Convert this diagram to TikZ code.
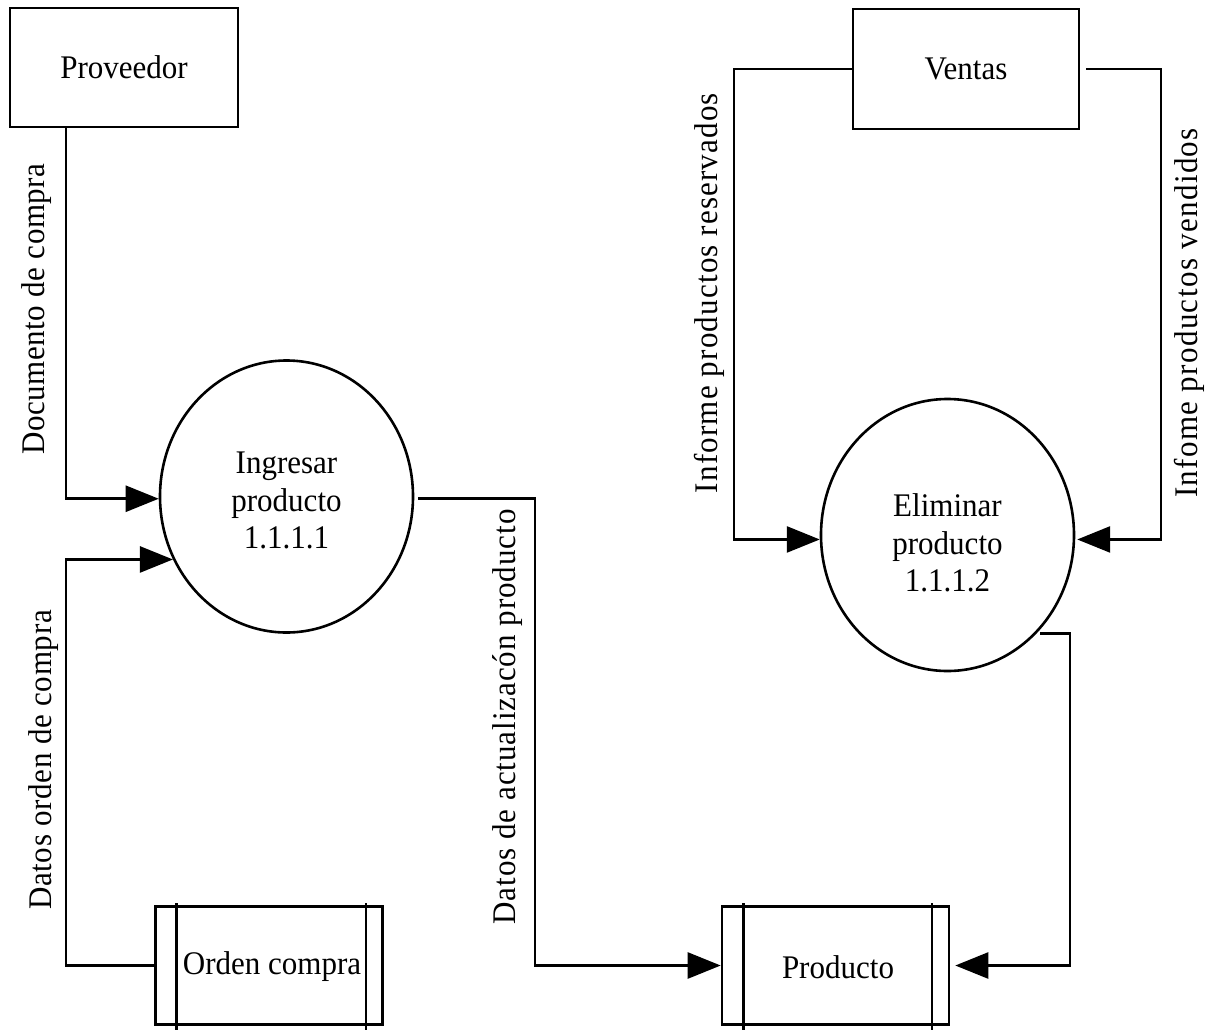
\documentclass[tikz,border=0pt]{standalone}
\usepackage{fontspec}
\setmainfont[FakeStretch=0.94]{Liberation Serif}
\usetikzlibrary{arrows.meta,shapes.geometric}
\begin{document}
\begin{tikzpicture}[x=1pt,y=-1pt,
  every node/.style={font=\fontsize{33}{37.5}\selectfont},
  entity/.style={draw, line width=2.6pt, rectangle, inner sep=0pt, align=center},
  store/.style={draw, line width=2.6pt, rectangle, inner sep=0pt, minimum width=227pt, minimum height=118pt},
  proc/.style={draw, line width=2.6pt, ellipse, minimum width=253pt, minimum height=272pt, inner sep=0pt},
  flow/.style={line width=2.6pt, -{Triangle[length=33pt,width=26pt]}},
  plainline/.style={line width=2.6pt},
  flowlabel/.style={rotate=90, inner sep=0pt}
]
\path[use as bounding box] (0,0) rectangle (1211,1029);

% entities
\node[entity, minimum width=228pt, minimum height=119pt] (prov) at (124,67.5) {Proveedor};
\node[entity, minimum width=226pt, minimum height=120pt] (ventas) at (966,69) {Ventas};

% processes
\node[proc] (ing) at (286.5,496.5) {};
\node[align=center] (ingtxt) at ([yshift=-4pt]ing.center) {Ingresar\\producto\\1.1.1.1};
\node[proc] (elim) at (947.5,535) {};
\node[align=center] (elimtxt) at ([yshift=-8pt]elim.center) {Eliminar\\producto\\1.1.1.2};

% data stores
\node[store] (orden) at (269,965.5) {};
\node (ordentxt) at (272,967) {Orden compra};
\draw[plainline] ([xshift=22pt,yshift=2pt]orden.north west) -- ([xshift=22pt,yshift=-6pt]orden.south west);
\draw[plainline] ([xshift=-18pt,yshift=2pt]orden.north east) -- ([xshift=-18pt,yshift=-6pt]orden.south east);

\node[store] (prod) at (835.5,965.5) {};
\node (prodtxt) at (838,967) {Producto};
\draw[plainline] ([xshift=22.5pt,yshift=2pt]prod.north west) -- ([xshift=22.5pt,yshift=-6pt]prod.south west);
\draw[plainline] ([xshift=-18.5pt,yshift=2pt]prod.north east) -- ([xshift=-18.5pt,yshift=-6pt]prod.south east);

% helper x positions
\coordinate (xL) at (66,0);
\coordinate (xM) at (535,0);
\coordinate (xR) at (1070,0);
\coordinate (xVL) at (734,0);
\coordinate (xVR) at (1161,0);

% flows
\draw[flow] (prov.south -| xL) |- (ing.181);
\draw[flow] (orden.west) -| (xL |- ing.209) -- (ing.209);
\draw[flow] ([xshift=4pt]ing.359) -| (xM |- prod.west) -- (prod.west);
\draw[flow] ([xshift=4pt]elim.-48) -| (xR |- prod.east) -- ([xshift=5pt]prod.east);
\draw[flow] (ventas.west) -| (xVL |- elim.182) -- (elim.182);
\draw[flow] ([xshift=6pt]ventas.east) -| (xVR |- elim.-2) -- ([xshift=2pt]elim.-2);

% labels
\node[flowlabel, font=\fontsize{33}{36}\selectfont\addfontfeature{LetterSpace=1.6}] (l1) at (37,309) {Documento de compra};
\node[flowlabel, font=\fontsize{33}{36}\selectfont\addfontfeature{LetterSpace=2.0}] (l2) at (44,760) {Datos orden de compra};
\node[flowlabel, font=\fontsize{33}{36}\selectfont\addfontfeature{LetterSpace=2.9}] (l3) at (508,717) {Datos de actualizacón producto};
\node[flowlabel, font=\fontsize{33}{36}\selectfont\addfontfeature{LetterSpace=3.6}] (l4) at (709,293) {Informe productos reservados};
\node[flowlabel, font=\fontsize{33}{36}\selectfont\addfontfeature{LetterSpace=4.2}] (l5) at (1189,313) {Infome productos vendidos};
\end{tikzpicture}
\end{document}
